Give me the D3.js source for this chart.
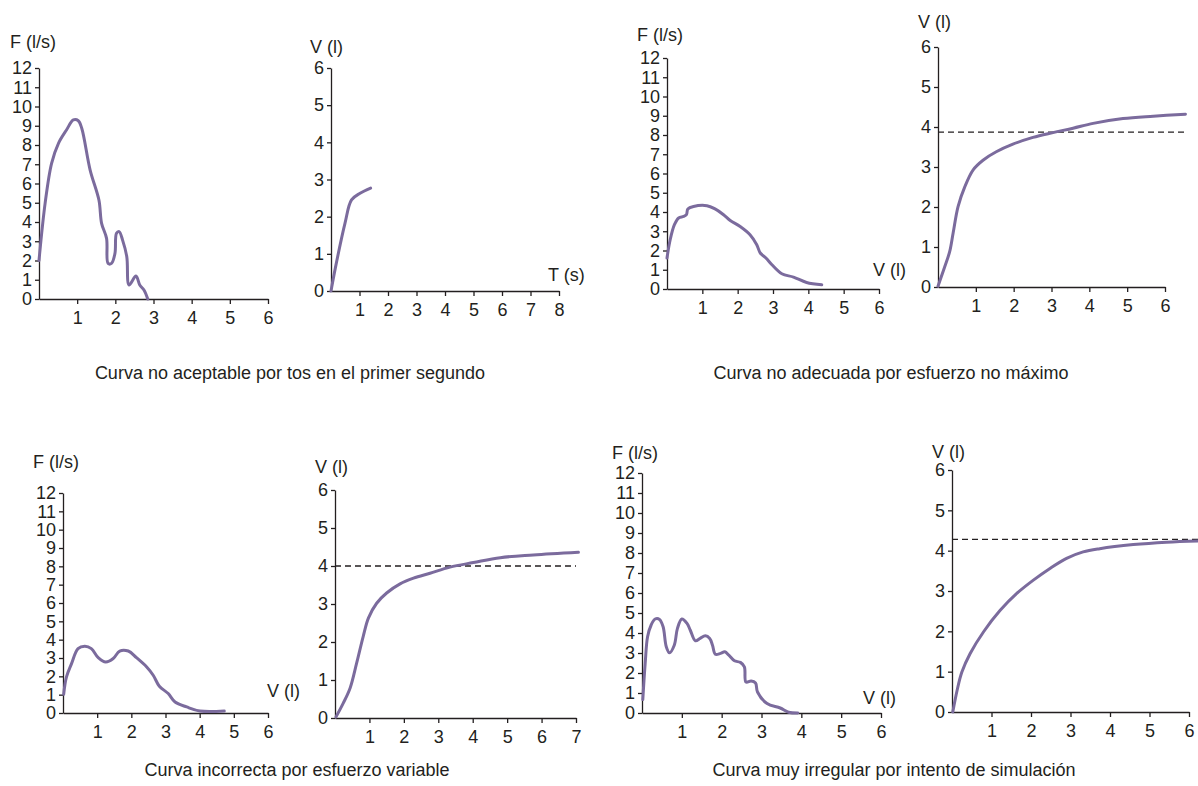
<!DOCTYPE html>
<html lang="es">
<head>
<meta charset="UTF-8">
<title>Curvas espirométricas</title>
<script src="https://cdnjs.cloudflare.com/ajax/libs/d3/7.8.5/d3.min.js"></script>
<style>
  html, body { margin: 0; padding: 0; background: #fff; }
  svg { display: block; font-family: "Liberation Sans", Arial, sans-serif; }
  .axis path, .axis line { stroke: #231f20; stroke-width: 1.3; }
  .axis text { fill: #231f20; font-size: 18px; font-family: "Liberation Sans", Arial, sans-serif; }
  .lbl { fill: #231f20; font-size: 18px; }
  .curve { fill: none; stroke: #7b6b9d; stroke-width: 3; stroke-linejoin: round; stroke-linecap: round; }
  .ref { stroke: #231f20; stroke-width: 1.3; stroke-dasharray: 6 4; }
</style>
</head>
<body>
<svg width="1198" height="786"></svg>
<script>
// --- data ---
// flow-volume curves: [volumen (l), flujo (l/s)]
const flowTos = [[0,2.0],[0.16,4.97],[0.33,7.05],[0.51,8.09],[0.72,8.78],[0.9,9.3],[1.03,9.26],[1.12,8.87],
  [1.34,6.7],[1.57,5.14],[1.64,3.93],[1.77,3.15],[1.81,1.85],[1.9,1.85],[1.99,2.37],[2.03,3.41],[2.1,3.5],
  [2.19,3.06],[2.3,2.2],[2.36,0.73],[2.54,1.19],[2.64,0.73],[2.75,0.47],[2.85,0]];
const flowNoMax = [[0,1.61],[0.09,2.56],[0.21,3.34],[0.33,3.69],[0.47,3.77],[0.55,3.86],[0.59,4.16],[0.75,4.29],
  [1.13,4.33],[1.36,4.16],[1.6,3.86],[1.79,3.56],[2.07,3.25],[2.35,2.82],[2.54,2.3],[2.64,1.87],[2.8,1.61],
  [2.97,1.26],[3.25,0.79],[3.58,0.62],[3.95,0.34],[4.38,0.22]];
const flowVariable = [[0.02,1.02],[0.1,1.96],[0.25,2.69],[0.44,3.51],[0.64,3.64],[0.83,3.51],[1.03,3.02],[1.25,2.78],
  [1.47,2.97],[1.66,3.38],[1.91,3.38],[2.15,3.02],[2.45,2.51],[2.64,2.06],[2.82,1.46],[3.08,1.06],[3.28,0.6],
  [3.62,0.33],[4.01,0.11],[4.72,0.11]];
const flowSimul = [[0.02,0.67],[0.08,2.48],[0.14,3.81],[0.23,4.4],[0.33,4.7],[0.44,4.68],[0.53,4.31],[0.61,3.31],
  [0.69,3.01],[0.81,3.39],[0.89,4.23],[1.0,4.7],[1.13,4.48],[1.21,4.15],[1.34,3.61],[1.46,3.73],[1.59,3.86],
  [1.7,3.73],[1.77,3.39],[1.84,2.94],[1.97,2.98],[2.08,3.06],[2.18,2.89],[2.32,2.61],[2.47,2.53],[2.57,2.31],
  [2.61,1.55],[2.74,1.6],[2.85,1.5],[2.9,1.05],[3.14,0.47],[3.47,0.25],[3.68,0.04],[3.91,0]];

// volume-time curves: [tiempo (s), volumen (l)]
const volTos = [[0,0],[0.15,0.61],[0.49,1.82],[0.72,2.45],[1.02,2.63],[1.39,2.77]];
const volNoMax = [[0,0.02],[0.18,0.51],[0.31,0.89],[0.4,1.35],[0.53,2.01],[0.71,2.51],[0.93,2.93],[1.19,3.17],
  [1.54,3.38],[1.98,3.57],[2.51,3.74],[3.04,3.86],[3.57,3.97],[4.1,4.09],[4.89,4.21],[5.69,4.27],[6.54,4.32]];
const volVariable = [[0.03,0.03],[0.24,0.39],[0.44,0.79],[0.63,1.45],[0.82,2.15],[0.97,2.63],[1.21,3.02],[1.5,3.29],
  [1.89,3.53],[2.28,3.68],[2.76,3.81],[3.34,3.97],[4.02,4.09],[4.8,4.22],[5.76,4.29],[7.07,4.36]];
const volSimul = [[0.02,0],[0.13,0.54],[0.25,0.99],[0.46,1.45],[0.8,1.99],[1.22,2.52],[1.64,2.94],[2.06,3.27],
  [2.48,3.56],[2.9,3.81],[3.32,3.97],[3.74,4.05],[4.59,4.15],[5.43,4.21],[6.23,4.24]];

// dashed reference levels (l)
const refLevels = { noMax: 3.87, variable: 4.0, simul: 4.28 };

// tick labels
const flowTicks = d3.range(0, 13);
const volTicks = d3.range(0, 7);
const xTicks6 = [1, 2, 3, 4, 5, 6];
const xTicks7 = [1, 2, 3, 4, 5, 6, 7];
const xTicks8 = [1, 2, 3, 4, 5, 6, 7, 8];

const captions = [
  "Curva no aceptable por tos en el primer segundo",
  "Curva no adecuada por esfuerzo no máximo",
  "Curva incorrecta por esfuerzo variable",
  "Curva muy irregular por intento de simulación"
];

// --- layout (pixel boxes) ---
const panels = [
  { data: flowTos, px: [39, 268], py: [299, 68], xMax: 6, yMax: 12, xt: xTicks6, yt: flowTicks,
    yTitle: "F (l/s)", yTitlePos: [10, 48] },
  { data: volTos, px: [331, 559], py: [291, 68], xMax: 8, yMax: 6, xt: xTicks8, yt: volTicks,
    yTitle: "V (l)", yTitlePos: [310, 53], xTitle: "T (s)", xTitlePos: [548, 281] },
  { data: flowNoMax, px: [667, 879], py: [289, 58], xMax: 6, yMax: 12, xt: xTicks6, yt: flowTicks,
    yTitle: "F (l/s)", yTitlePos: [637, 41] , xTitle: "V (l)", xTitlePos: [873, 276] },
  { data: volNoMax, px: [938, 1165], py: [287, 47], xMax: 6, yMax: 6, xt: xTicks6, yt: volTicks,
    yTitle: "V (l)", yTitlePos: [918, 28], ref: refLevels.noMax, refEnd: 6.55 },
  { data: flowVariable, px: [63, 268], py: [713, 493], xMax: 6, yMax: 12, xt: xTicks6, yt: flowTicks,
    yTitle: "F (l/s)", yTitlePos: [33, 468], xTitle: "V (l)", xTitlePos: [267, 697] },
  { data: volVariable, px: [335, 576], py: [718, 490], xMax: 7, yMax: 6, xt: xTicks7, yt: volTicks,
    yTitle: "V (l)", yTitlePos: [315, 473], ref: refLevels.variable, refEnd: 7 },
  { data: flowSimul, px: [642, 881], py: [713, 473], xMax: 6, yMax: 12, xt: xTicks6, yt: flowTicks,
    yTitle: "F (l/s)", yTitlePos: [612, 459], xTitle: "V (l)", xTitlePos: [863, 704] },
  { data: volSimul, px: [952, 1189], py: [712, 470], xMax: 6, yMax: 6, xt: xTicks6, yt: volTicks,
    yTitle: "V (l)", yTitlePos: [932, 458], ref: refLevels.simul, refEnd: 6.3 }
];

const captionPos = [[290, 379], [891, 379], [297, 776], [894, 776]];

const svg = d3.select("svg");

panels.forEach(p => {
  const x = d3.scaleLinear().domain([0, p.xMax]).range(p.px);
  const y = d3.scaleLinear().domain([0, p.yMax]).range(p.py);
  const g = svg.append("g");

  g.append("g")
    .attr("class", "axis")
    .attr("transform", `translate(0,${p.py[0]})`)
    .call(d3.axisBottom(x).tickValues(p.xt).tickSize(5).tickSizeOuter(0).tickPadding(7).tickFormat(d3.format("d")));

  g.append("g")
    .attr("class", "axis")
    .attr("transform", `translate(${p.px[0]},0)`)
    .call(d3.axisLeft(y).tickValues(p.yt).tickSize(4).tickSizeOuter(0).tickPadding(3).tickFormat(d3.format("d")));

  if (p.ref !== undefined) {
    g.append("line")
      .attr("class", "ref")
      .attr("x1", x(0)).attr("x2", x(p.refEnd))
      .attr("y1", y(p.ref)).attr("y2", y(p.ref));
  }

  const line = d3.line()
    .x(d => x(d[0]))
    .y(d => y(d[1]))
    .curve(d3.curveCatmullRom.alpha(0.5));

  g.append("path")
    .datum(p.data)
    .attr("class", "curve")
    .attr("d", line);

  g.append("text").attr("class", "lbl")
    .attr("x", p.yTitlePos[0]).attr("y", p.yTitlePos[1])
    .text(p.yTitle);

  if (p.xTitle) {
    g.append("text").attr("class", "lbl")
      .attr("x", p.xTitlePos[0]).attr("y", p.xTitlePos[1])
      .text(p.xTitle);
  }
});

svg.selectAll("text.caption")
  .data(captions)
  .enter()
  .append("text")
  .attr("class", "lbl caption")
  .attr("text-anchor", "middle")
  .attr("x", (d, i) => captionPos[i][0])
  .attr("y", (d, i) => captionPos[i][1])
  .text(d => d);
</script>
</body>
</html>
